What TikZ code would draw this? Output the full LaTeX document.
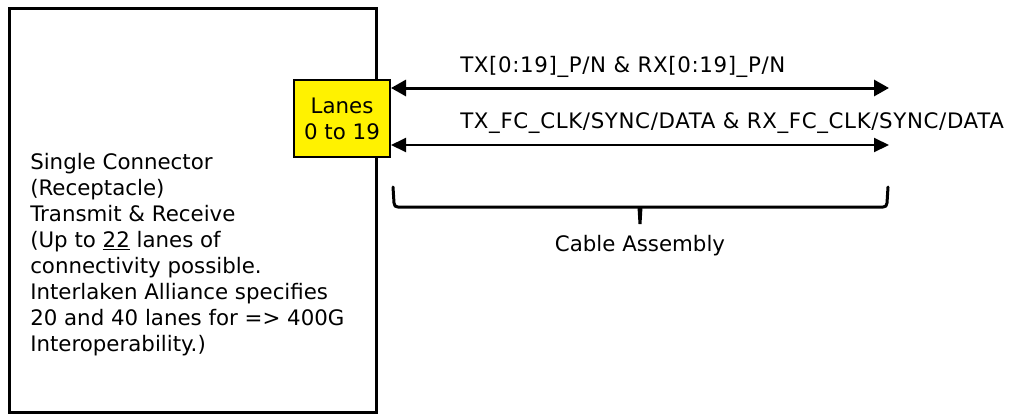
\documentclass[tikz,border=0pt]{standalone}
\usepackage{fontspec}
\setmainfont{DejaVu Sans}
\usetikzlibrary{arrows.meta}
\begin{document}
\begin{tikzpicture}[x=0.75pt,y=-0.75pt,
  every node/.style={font=\fontsize{16pt}{19.5pt}\selectfont},
  connbox/.style={draw,line width=2.25pt,minimum width=275.25pt,minimum height=303pt,inner sep=0pt},
  lanebox/.style={draw,fill=yellow,line width=1.5pt,minimum width=72pt,minimum height=57.75pt,align=center,inner sep=0pt},
  bus/.style={line width=2.25pt,{Triangle[length=11.25pt,width=12pt]}-{Triangle[length=11.25pt,width=12pt]}},
  sideband/.style={line width=1.5pt,{Triangle[length=11.25pt,width=10.5pt]}-{Triangle[length=11.25pt,width=10.5pt]}},
  sigtext/.style={anchor=base west,inner sep=0pt,font=\fontsize{16pt}{19.5pt}\selectfont\addfontfeature{LetterSpace=3}},
  bracket/.style={line width=2.25pt,line join=round,line cap=round}]
\useasboundingbox (0,0) rectangle (1012,415);
\node[connbox] (conn) at (192.5,210) {};
\node[lanebox] (lanes) at (342,118.5) {Lanes\\0 to 19};
\node[anchor=north west,align=left,inner sep=0pt] (desc) at (30,153) {Single Connector\\(Receptacle)\\Transmit \& Receive\\(Up to \underline{22} lanes of\\connectivity possible.\\Interlaken Alliance specifies\\20 and 40 lanes for => 400G\\Interoperability.)};
\coordinate (txend) at (889,88);
\coordinate (fcend) at (889,145);
\draw[bus] (lanes.east |- txend) -- (txend);
\draw[sideband] (lanes.east |- fcend) -- (fcend);
\node[sigtext] (txrx) at (460,72) {TX[0:19]\_P/N \& RX[0:19]\_P/N};
\node[sigtext] (fcsig) at (460,128) {TX\_FC\_CLK/SYNC/DATA \& RX\_FC\_CLK/SYNC/DATA};
\draw[bracket] (393,187) -- (394,203) .. controls (394.3,206) and (395.5,207) .. (398,207) -- (883,207)
  .. controls (885.5,207) and (886.7,206) .. (887,203) -- (888,187);
\fill (637.5,207) -- (642.5,207) -- (641.5,224) -- (638.5,224) -- cycle;
\node[anchor=base] (cable) at (640,251) {Cable Assembly};
\end{tikzpicture}
\end{document}
